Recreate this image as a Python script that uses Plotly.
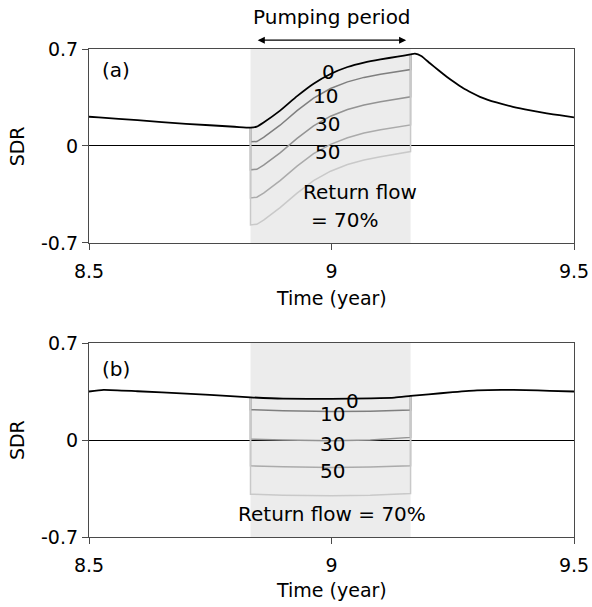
import plotly.graph_objects as go

# ---------------- data ----------------
PUMP_START = 8.833
PUMP_END = 9.163

# panel (a): return flow = 70 %
a_pre_t = [8.5, 8.52, 8.6, 8.7, 8.8, 8.833]
a_pre_v = [0.211, 0.206, 0.186, 0.160, 0.139, 0.132]

a_pump_t = [8.833, 8.846, 8.86, 8.894, 8.929, 8.963, 8.998, 9.033, 9.067, 9.101, 9.136, 9.163]
a_r0 = [0.132, 0.140, 0.170, 0.255, 0.360, 0.450, 0.520, 0.570, 0.602, 0.625, 0.645, 0.661]
a_r10 = [0.030, 0.032, 0.062, 0.150, 0.255, 0.345, 0.415, 0.463, 0.495, 0.518, 0.537, 0.552]
a_r30 = [-0.172, -0.168, -0.138, -0.050, 0.055, 0.145, 0.215, 0.263, 0.296, 0.320, 0.338, 0.355]
a_r50 = [-0.375, -0.370, -0.340, -0.250, -0.145, -0.055, 0.012, 0.060, 0.093, 0.117, 0.135, 0.152]
a_r70 = [-0.570, -0.565, -0.535, -0.445, -0.340, -0.250, -0.182, -0.134, -0.101, -0.077, -0.058, -0.040]

a_post_t = [9.163, 9.172, 9.185, 9.203, 9.22, 9.2375, 9.255, 9.271, 9.29, 9.306, 9.34, 9.374, 9.41, 9.444, 9.47, 9.5]
a_post_v = [0.661, 0.666, 0.650, 0.597, 0.548, 0.500, 0.456, 0.418, 0.382, 0.355, 0.314, 0.283, 0.257, 0.236, 0.222, 0.207]

# panel (b)
b_pre_t = [8.5, 8.53, 8.6, 8.7, 8.8, 8.833]
b_pre_v = [0.350, 0.362, 0.352, 0.335, 0.315, 0.308]

b_pump_t = [8.833, 8.9, 9.0, 9.08, 9.13, 9.163]
b_r0 = [0.308, 0.298, 0.297, 0.301, 0.306, 0.318]
b_r10 = [0.219, 0.212, 0.205, 0.208, 0.213, 0.217]
b_r30 = [0.007, 0.000, -0.005, 0.000, 0.010, 0.019]
b_r50 = [-0.186, -0.193, -0.198, -0.195, -0.190, -0.186]
b_r70 = [-0.391, -0.398, -0.403, -0.398, -0.392, -0.386]

b_post_t = [9.163, 9.2, 9.25, 9.3, 9.35, 9.4, 9.45, 9.5]
b_post_v = [0.318, 0.330, 0.345, 0.358, 0.362, 0.360, 0.355, 0.350]

return_flows = ["10", "30", "50", "70"]
gray_colors = ["#7f7f7f", "#939393", "#ababab", "#c9c9c9"]

x_ticks = [8.5, 9, 9.5]
x_ticktext = ["8.5", "9", "9.5"]
y_ticks = [-0.7, 0, 0.7]
y_ticktext = ["-0.7", "0", "0.7"]

FONT = "DejaVu Sans"
AX_COLOR = "#4a4a4a"

fig = go.Figure()


def add_panel(xa, ya, pre_t, pre_v, pump_t, r0, grays, post_t, post_v):
    # gray curves (drop from black line at start, rise back at end)
    for series, col in zip(grays, gray_colors):
        xs = [pump_t[0]] + pump_t + [pump_t[-1]]
        ys = [r0[0]] + series + [r0[-1]]
        fig.add_trace(go.Scatter(x=xs, y=ys, mode="lines", xaxis=xa, yaxis=ya,
                                 line=dict(color=col, width=1.5), showlegend=False,
                                 hoverinfo="skip"))
    xs = pre_t + pump_t[1:] + post_t[1:]
    ys = pre_v + r0[1:] + post_v[1:]
    fig.add_trace(go.Scatter(x=xs, y=ys, mode="lines", xaxis=xa, yaxis=ya,
                             line=dict(color="black", width=1.8, shape="spline",
                                       smoothing=0.5),
                             showlegend=False, hoverinfo="skip"))


add_panel("x", "y", a_pre_t, a_pre_v, a_pump_t, a_r0,
          [a_r10, a_r30, a_r50, a_r70], a_post_t, a_post_v)
add_panel("x2", "y2", b_pre_t, b_pre_v, b_pump_t, b_r0,
          [b_r10, b_r30, b_r50, b_r70], b_post_t, b_post_v)

# shaded pumping period
for xr, yr in [("x", "y"), ("x2", "y2")]:
    fig.add_shape(type="rect", xref=xr, yref=yr, x0=PUMP_START, x1=PUMP_END,
                  y0=-0.7, y1=0.7, fillcolor="#ececec", line=dict(width=0),
                  layer="below")

axis_common = dict(showgrid=False, showline=True, mirror=True, linecolor=AX_COLOR,
                   linewidth=1.2, ticks="outside", ticklen=6, tickcolor=AX_COLOR,
                   automargin=False,
                   tickfont=dict(family=FONT, size=19, color="black"))

fig.update_layout(
    width=592, height=607,
    margin=dict(l=89, r=18, t=49, b=70),
    paper_bgcolor="white", plot_bgcolor="white",
    font=dict(family=FONT, size=19, color="black"),
    xaxis=dict(domain=[0, 1], anchor="y", range=[8.5, 9.5], tickvals=x_ticks,
               ticktext=x_ticktext, ticklabelstandoff=5, **axis_common),
    yaxis=dict(domain=[0.6025, 1], anchor="x", range=[-0.7, 0.7], tickvals=y_ticks,
               ticktext=y_ticktext, zeroline=True, zerolinecolor="black", zerolinewidth=1.2,
               **axis_common),
    xaxis2=dict(domain=[0, 1], anchor="y2", range=[8.5, 9.5], tickvals=x_ticks,
                ticktext=x_ticktext, ticklabelstandoff=5, **axis_common),
    yaxis2=dict(domain=[0, 0.3975], anchor="x2", range=[-0.7, 0.7], tickvals=y_ticks,
                ticktext=y_ticktext, zeroline=True, zerolinecolor="black", zerolinewidth=1.2,
                **axis_common),
)

ann_font = dict(family=FONT, size=20, color="black")
title_font = dict(family=FONT, size=19, color="black")
anns = [
    # panel (a)
    dict(x=8.523, y=0.545, xref="x", yref="y", text="(a)", xanchor="left"),
    dict(x=8.993, y=0.535, xref="x", yref="y", text="0"),
    dict(x=8.987, y=0.36, xref="x", yref="y", text="10"),
    dict(x=8.991, y=0.16, xref="x", yref="y", text="30"),
    dict(x=8.991, y=-0.04, xref="x", yref="y", text="50"),
    dict(x=9.058, y=-0.33, xref="x", yref="y", text="Return flow"),
    dict(x=9.027, y=-0.535, xref="x", yref="y", text="= 70%"),
    # panel (b)
    dict(x=8.523, y=0.51, xref="x2", yref="y2", text="(b)", xanchor="left"),
    dict(x=9.043, y=0.285, xref="x2", yref="y2", text="0"),
    dict(x=9.003, y=0.185, xref="x2", yref="y2", text="10"),
    dict(x=9.003, y=-0.03, xref="x2", yref="y2", text="30"),
    dict(x=9.003, y=-0.222, xref="x2", yref="y2", text="50"),
    dict(x=9.0, y=-0.535, xref="x2", yref="y2", text="Return flow = 70%"),
    # pumping period label
    dict(x=9.0, y=1.0656, xref="x", yref="paper", text="Pumping period"),
]
for a in anns:
    a.setdefault("showarrow", False)
    a.setdefault("xanchor", "center")
    a["yanchor"] = "middle"
    a["font"] = ann_font
    fig.add_annotation(**a)

# axis titles
for ypos in [0.801, 0.199]:
    fig.add_annotation(x=-0.148, y=ypos, xref="paper", yref="paper", text="SDR",
                       textangle=-90, showarrow=False, font=title_font,
                       xanchor="center", yanchor="middle")
for ypos in [0.4898, -0.1086]:
    fig.add_annotation(x=0.499, y=ypos, xref="paper", yref="paper", text="Time (year)",
                       showarrow=False, font=title_font, xanchor="center", yanchor="middle")

# double-headed arrow for pumping period
fig.add_annotation(x=9.154, y=1.018, xref="x", yref="paper",
                   ax=-150, ay=0, axref="pixel", ayref="pixel", text="", showarrow=True,
                   xanchor="center", yanchor="middle",
                   arrowhead=2, startarrowhead=2, arrowside="end+start",
                   arrowsize=1.1, startarrowsize=1.1, arrowwidth=1.3, arrowcolor="black")

fig.write_html("out.html", config={"displayModeBar": False},
               post_script="document.body.style.margin='0';")
